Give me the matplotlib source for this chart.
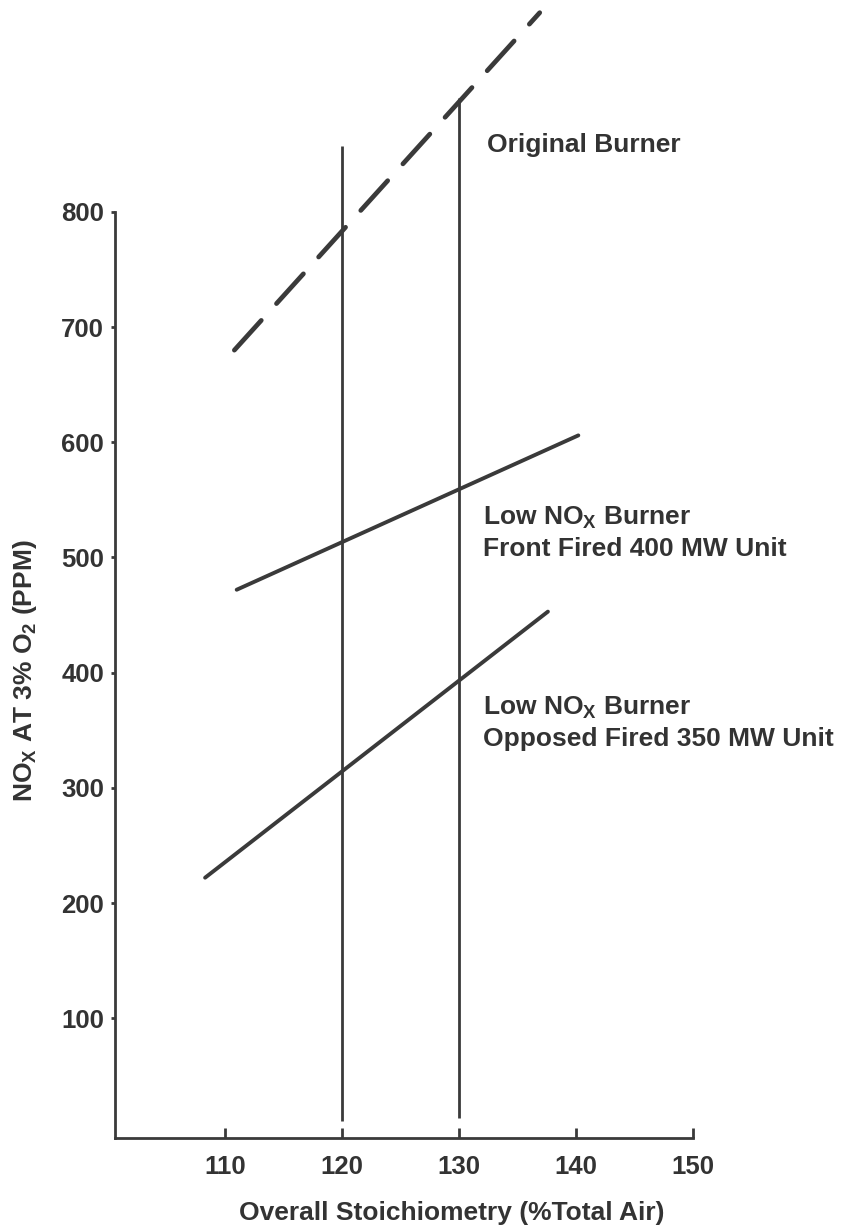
import matplotlib
matplotlib.use("Agg")
import matplotlib.pyplot as plt

plt.rcParams.update(
    {
        "font.family": ["Liberation Sans", "DejaVu Sans"],
        "font.weight": "bold",
        "font.size": 19,
        "mathtext.fontset": "custom",
        "mathtext.rm": "Liberation Sans:bold",
        "mathtext.it": "Liberation Sans:bold",
        "mathtext.bf": "Liberation Sans:bold",
        "text.color": "#333333",
    }
)

# data
x_ticks = [110, 120, 130, 140, 150]
y_ticks = [100, 200, 300, 400, 500, 600, 700, 800]

original_x = [110.8, 136.9]
original_y = [680, 973]

front_x = [111.0, 140.2]
front_y = [472, 606]

opposed_x = [108.3, 137.6]
opposed_y = [222, 453]

ref_x = [120, 130]
ref_bottom = [11, 13]
ref_top = [857, 899]

ink = "#3a3a3a"

fig = plt.figure(figsize=(8.57, 12.26), dpi=100)
ax = fig.add_axes([115 / 857, 88 / 1226, 578 / 857, 1138 / 1226])
ax.set_xlim(100.6, 150)
ax.set_ylim(-4, 984)

# reference verticals at 120 and 130 % air
for xv, y0, y1 in zip(ref_x, ref_bottom, ref_top):
    ax.plot([xv, xv], [y0, y1], color=ink, lw=2.0, solid_capstyle="butt", clip_on=False)

ax.plot(original_x, original_y, color=ink, lw=3.4, ls=(0, (8.5, 4.8)),
        dash_capstyle="round", clip_on=False)
ax.plot(front_x, front_y, color=ink, lw=2.8, solid_capstyle="round", clip_on=False)
ax.plot(opposed_x, opposed_y, color=ink, lw=2.8, solid_capstyle="round", clip_on=False)

ax.text(132.4, 858, "Original Burner", ha="left", va="center")
ax.text(132.05, 534, r"Low NO$_{\rm X}$ Burner", ha="left", va="center")
ax.text(132.05, 507, "Front Fired 400 MW Unit", ha="left", va="center")
ax.text(132.05, 369, r"Low NO$_{\rm X}$ Burner", ha="left", va="center")
ax.text(132.05, 342, "Opposed Fired 350 MW Unit", ha="left", va="center")

for side in ["top", "right"]:
    ax.spines[side].set_visible(False)
ax.spines["left"].set_bounds(-4, 800)
ax.spines["left"].set_linewidth(2.0)
ax.spines["bottom"].set_linewidth(2.0)
ax.spines["left"].set_color(ink)
ax.spines["bottom"].set_color(ink)

ax.set_xticks(x_ticks)
ax.set_yticks(y_ticks)
ax.tick_params(axis="x", direction="in", length=7, width=2, pad=12,
               colors=ink, labelcolor="#333333", labelsize=18.5)
ax.tick_params(axis="y", direction="out", length=3, width=2, pad=5,
               colors=ink, labelcolor="#333333", labelsize=18.5)

fig.text(25 / 857, 1 - 671 / 1226, r"NO$_{\rm X}$ AT 3% O$_{\rm 2}$ (PPM)",
         rotation=90, ha="center", va="center")
fig.text(452 / 857, 1 - 1213 / 1226, "Overall Stoichiometry (%Total Air)",
         ha="center", va="center")

fig.savefig("out.png", dpi=100)
